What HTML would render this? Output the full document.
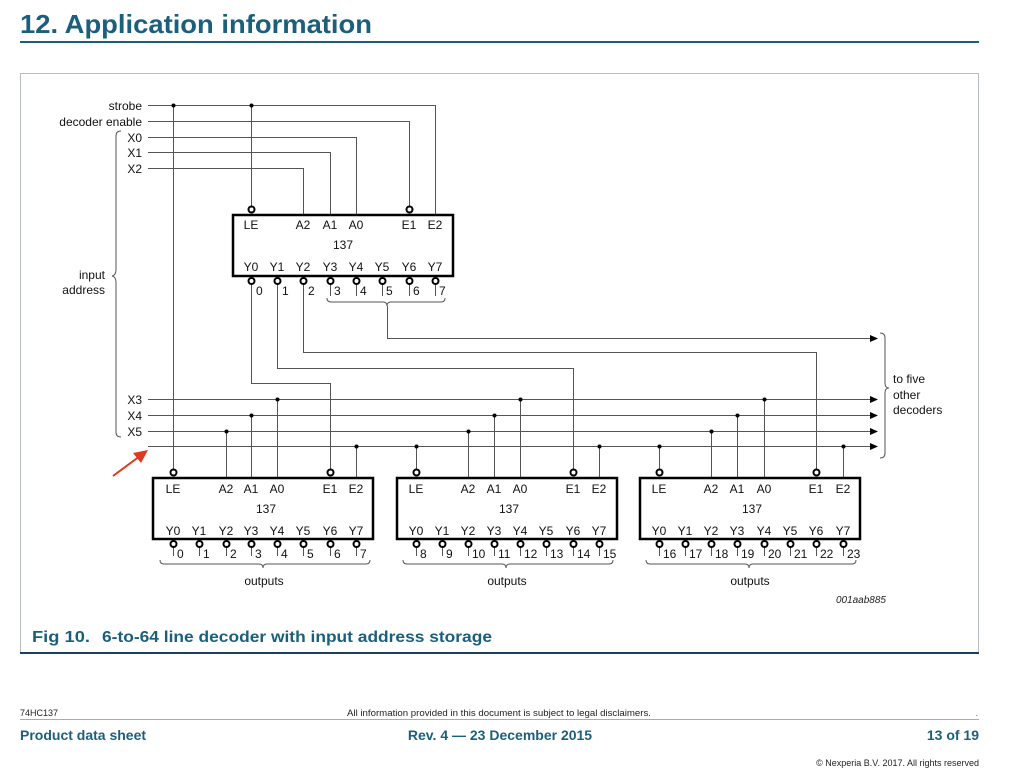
<!DOCTYPE html>
<html><head><meta charset="utf-8"><style>
html,body{margin:0;padding:0;background:#fff}
svg{display:block}
text{font-family:"Liberation Sans",Arial,sans-serif}
</style></head><body>
<svg width="1024" height="782" viewBox="0 0 1024 782" xmlns="http://www.w3.org/2000/svg">
<!-- header -->
<text x="20" y="33" font-size="26" font-weight="bold" fill="#1b5f7c" textLength="352" lengthAdjust="spacingAndGlyphs">12. Application information</text>
<rect x="20" y="41" width="959" height="2" fill="#1b5f7c"/>
<!-- frame -->
<rect x="20.5" y="73.5" width="958" height="580" fill="none" stroke="#b8bcc4" stroke-width="1"/>
<rect x="20" y="652" width="959" height="2" fill="#1e3f5c"/>
<text x="32" y="642" font-size="16" font-weight="bold" fill="#1b5f7c" textLength="58" lengthAdjust="spacingAndGlyphs">Fig 10.</text>
<text x="102" y="642" font-size="16" font-weight="bold" fill="#1b5f7c" textLength="390" lengthAdjust="spacingAndGlyphs">6-to-64 line decoder with input address storage</text>

<g stroke="#555" stroke-width="1" fill="none">
<line x1="148" y1="105.5" x2="435.5" y2="105.5"/><line x1="435.5" y1="105" x2="435.5" y2="214"/>
<line x1="148" y1="121.5" x2="409.5" y2="121.5"/><line x1="409.5" y1="121" x2="409.5" y2="206"/>
<line x1="148" y1="137.5" x2="356.5" y2="137.5"/><line x1="356.5" y1="137" x2="356.5" y2="214"/>
<line x1="148" y1="152.5" x2="330.5" y2="152.5"/><line x1="330.5" y1="152" x2="330.5" y2="214"/>
<line x1="148" y1="168.5" x2="303.5" y2="168.5"/><line x1="303.5" y1="168" x2="303.5" y2="214"/>
<line x1="251.5" y1="105" x2="251.5" y2="206"/>
<line x1="173.5" y1="105" x2="173.5" y2="470"/>
<polyline points="251.5,284 251.5,383.5 330.5,383.5 330.5,470"/>
<polyline points="277.5,284 277.5,368.5 573.5,368.5 573.5,470"/>
<polyline points="303.5,284 303.5,352.5 816.5,352.5 816.5,470"/>
<polyline points="387.5,306 387.5,338.5 870,338.5"/>
<path d="M327,298 q0,4 4,4 h52 q4,0 4,4 q0,-4 4,-4 h50 q4,0 4,-4"/>
<line x1="148" y1="399.5" x2="870" y2="399.5"/>
<line x1="148" y1="415.5" x2="870" y2="415.5"/>
<line x1="148" y1="431.5" x2="870" y2="431.5"/>
<line x1="148" y1="446.5" x2="870" y2="446.5"/>
<path d="M121,131 q-5,0 -5,5 v134 q0,5 -4,6 q4,1 4,6 v150 q0,5 5,5"/>
<path d="M880,333 q5,0 5,5 v45 q0,5 4,5 q-4,0 -4,5 v60 q0,5 -5,5"/>
<line x1="226.5" y1="431" x2="226.5" y2="478"/><line x1="251.5" y1="415" x2="251.5" y2="478"/><line x1="277.5" y1="399" x2="277.5" y2="478"/><line x1="356.5" y1="446" x2="356.5" y2="478"/>
<line x1="416.5" y1="446" x2="416.5" y2="470"/><line x1="468.5" y1="431" x2="468.5" y2="478"/><line x1="494.5" y1="415" x2="494.5" y2="478"/><line x1="520.5" y1="399" x2="520.5" y2="478"/><line x1="599.5" y1="446" x2="599.5" y2="478"/>
<line x1="659.5" y1="446" x2="659.5" y2="470"/><line x1="711.5" y1="431" x2="711.5" y2="478"/><line x1="737.5" y1="415" x2="737.5" y2="478"/><line x1="764.5" y1="399" x2="764.5" y2="478"/><line x1="843.5" y1="446" x2="843.5" y2="478"/>
<line x1="330.5" y1="284" x2="330.5" y2="296"/><line x1="356.5" y1="284" x2="356.5" y2="296"/><line x1="382.5" y1="284" x2="382.5" y2="296"/><line x1="409.5" y1="284" x2="409.5" y2="296"/><line x1="435.5" y1="284" x2="435.5" y2="296"/>
<path d="M160,560 q0,4 4,4 h95 q4,0 4,4 q0,-4 4,-4 h99 q4,0 4,-4"/>
<path d="M403,560 q0,4 4,4 h95 q4,0 4,4 q0,-4 4,-4 h99 q4,0 4,-4"/>
<path d="M646,560 q0,4 4,4 h95 q4,0 4,4 q0,-4 4,-4 h99 q4,0 4,-4"/>
</g>
<g stroke="#555" stroke-width="1">
<path d="M173.5,547v9M199.5,547v9M226.5,547v9M251.5,547v9M277.5,547v9M303.5,547v9M330.5,547v9M356.5,547v9"/>
<path d="M416.5,547v9M442.5,547v9M468.5,547v9M494.5,547v9M520.5,547v9M546.5,547v9M573.5,547v9M599.5,547v9"/>
<path d="M659.5,547v9M685.5,547v9M711.5,547v9M737.5,547v9M764.5,547v9M790.5,547v9M816.5,547v9M843.5,547v9"/>
</g>
<g fill="#000">
<polygon points="870,335 878,338.5 870,342"/>
<polygon points="870,396 878,399.5 870,403"/>
<polygon points="870,412 878,415.5 870,419"/>
<polygon points="870,428 878,431.5 870,435"/>
<polygon points="870,443 878,446.5 870,450"/>
</g>
<g fill="#000">
<circle cx="173.5" cy="105.5" r="2"/><circle cx="251.5" cy="105.5" r="2"/>
<circle cx="226.5" cy="431.5" r="2"/><circle cx="251.5" cy="415.5" r="2"/><circle cx="277.5" cy="399.5" r="2"/><circle cx="356.5" cy="446.5" r="2"/>
<circle cx="416.5" cy="446.5" r="2"/><circle cx="468.5" cy="431.5" r="2"/><circle cx="494.5" cy="415.5" r="2"/><circle cx="520.5" cy="399.5" r="2"/><circle cx="599.5" cy="446.5" r="2"/>
<circle cx="659.5" cy="446.5" r="2"/><circle cx="711.5" cy="431.5" r="2"/><circle cx="737.5" cy="415.5" r="2"/><circle cx="764.5" cy="399.5" r="2"/><circle cx="843.5" cy="446.5" r="2"/>
</g>
<g fill="none" stroke="#000" stroke-width="2.5">
<rect x="233" y="215" width="220" height="61"/>
<rect x="153" y="478" width="220" height="61"/>
<rect x="397" y="478" width="220" height="61"/>
<rect x="640" y="478" width="220" height="61"/>
</g>
<g fill="#fff" stroke="#000" stroke-width="2">
<circle cx="251.5" cy="209.5" r="3"/><circle cx="409.5" cy="209.5" r="3"/>
<circle cx="251.5" cy="281" r="3"/><circle cx="277.5" cy="281" r="3"/><circle cx="303.5" cy="281" r="3"/><circle cx="330.5" cy="281" r="3"/><circle cx="356.5" cy="281" r="3"/><circle cx="382.5" cy="281" r="3"/><circle cx="409.5" cy="281" r="3"/><circle cx="435.5" cy="281" r="3"/>
<circle cx="173.5" cy="472.5" r="3"/><circle cx="330.5" cy="472.5" r="3"/>
<circle cx="416.5" cy="472.5" r="3"/><circle cx="573.5" cy="472.5" r="3"/>
<circle cx="659.5" cy="472.5" r="3"/><circle cx="816.5" cy="472.5" r="3"/>
<circle cx="173.5" cy="544" r="3"/><circle cx="199.5" cy="544" r="3"/><circle cx="226.5" cy="544" r="3"/><circle cx="251.5" cy="544" r="3"/><circle cx="277.5" cy="544" r="3"/><circle cx="303.5" cy="544" r="3"/><circle cx="330.5" cy="544" r="3"/><circle cx="356.5" cy="544" r="3"/>
<circle cx="416.5" cy="544" r="3"/><circle cx="442.5" cy="544" r="3"/><circle cx="468.5" cy="544" r="3"/><circle cx="494.5" cy="544" r="3"/><circle cx="520.5" cy="544" r="3"/><circle cx="546.5" cy="544" r="3"/><circle cx="573.5" cy="544" r="3"/><circle cx="599.5" cy="544" r="3"/>
<circle cx="659.5" cy="544" r="3"/><circle cx="685.5" cy="544" r="3"/><circle cx="711.5" cy="544" r="3"/><circle cx="737.5" cy="544" r="3"/><circle cx="764.5" cy="544" r="3"/><circle cx="790.5" cy="544" r="3"/><circle cx="816.5" cy="544" r="3"/><circle cx="843.5" cy="544" r="3"/>
</g>
<line x1="113" y1="476" x2="140" y2="456" stroke="#e03a1e" stroke-width="2"/>
<polygon points="148,450 133,453 141,463" fill="#e03a1e"/>

<g font-size="12" fill="#111">
<g text-anchor="end">
<text x="142" y="110">strobe</text>
<text x="142" y="126">decoder enable</text>
<text x="142" y="142">X0</text>
<text x="142" y="157">X1</text>
<text x="142" y="173">X2</text>
<text x="105" y="279">input</text>
<text x="105" y="294">address</text>
<text x="142" y="404">X3</text>
<text x="142" y="420">X4</text>
<text x="142" y="436">X5</text>
</g>
<text x="893" y="383">to five</text>
<text x="893" y="399">other</text>
<text x="893" y="414">decoders</text>
<g text-anchor="middle">
<text x="251" y="229">LE</text><text x="303" y="229">A2</text><text x="330" y="229">A1</text><text x="356" y="229">A0</text><text x="409" y="229">E1</text><text x="435" y="229">E2</text>
<text x="343" y="249">137</text>
<text x="251" y="271">Y0</text><text x="277" y="271">Y1</text><text x="303" y="271">Y2</text><text x="330" y="271">Y3</text><text x="356" y="271">Y4</text><text x="382" y="271">Y5</text><text x="409" y="271">Y6</text><text x="435" y="271">Y7</text>

<text x="173" y="493">LE</text><text x="226" y="493">A2</text><text x="251" y="493">A1</text><text x="277" y="493">A0</text><text x="330" y="493">E1</text><text x="356" y="493">E2</text>
<text x="266" y="513">137</text>
<text x="173" y="535">Y0</text><text x="199" y="535">Y1</text><text x="226" y="535">Y2</text><text x="251" y="535">Y3</text><text x="277" y="535">Y4</text><text x="303" y="535">Y5</text><text x="330" y="535">Y6</text><text x="356" y="535">Y7</text>

<text x="416" y="493">LE</text><text x="468" y="493">A2</text><text x="494" y="493">A1</text><text x="520" y="493">A0</text><text x="573" y="493">E1</text><text x="599" y="493">E2</text>
<text x="509" y="513">137</text>
<text x="416" y="535">Y0</text><text x="442" y="535">Y1</text><text x="468" y="535">Y2</text><text x="494" y="535">Y3</text><text x="520" y="535">Y4</text><text x="546" y="535">Y5</text><text x="573" y="535">Y6</text><text x="599" y="535">Y7</text>

<text x="659" y="493">LE</text><text x="711" y="493">A2</text><text x="737" y="493">A1</text><text x="764" y="493">A0</text><text x="816" y="493">E1</text><text x="843" y="493">E2</text>
<text x="752" y="513">137</text>
<text x="659" y="535">Y0</text><text x="685" y="535">Y1</text><text x="711" y="535">Y2</text><text x="737" y="535">Y3</text><text x="764" y="535">Y4</text><text x="790" y="535">Y5</text><text x="816" y="535">Y6</text><text x="843" y="535">Y7</text>

<text x="264" y="585">outputs</text><text x="507" y="585">outputs</text><text x="750" y="585">outputs</text>
</g>
<g>
<text x="256" y="295">0</text><text x="282" y="295">1</text><text x="308" y="295">2</text><text x="334" y="295">3</text><text x="360" y="295">4</text><text x="386" y="295">5</text><text x="413" y="295">6</text><text x="439" y="295">7</text>
<text x="177" y="558">0</text><text x="203" y="558">1</text><text x="230" y="558">2</text><text x="255" y="558">3</text><text x="281" y="558">4</text><text x="307" y="558">5</text><text x="334" y="558">6</text><text x="360" y="558">7</text>
<text x="420" y="558">8</text><text x="446" y="558">9</text><text x="472" y="558">10</text><text x="498" y="558">11</text><text x="524" y="558">12</text><text x="550" y="558">13</text><text x="577" y="558">14</text><text x="603" y="558">15</text>
<text x="663" y="558">16</text><text x="689" y="558">17</text><text x="715" y="558">18</text><text x="741" y="558">19</text><text x="768" y="558">20</text><text x="794" y="558">21</text><text x="820" y="558">22</text><text x="847" y="558">23</text>
</g>
<text x="886" y="603" font-size="10" font-style="italic" text-anchor="end" fill="#222">001aab885</text>
</g>

<text x="20" y="716" font-size="9" fill="#222">74HC137</text>
<text x="347" y="716" font-size="9" fill="#222" textLength="304" lengthAdjust="spacingAndGlyphs">All information provided in this document is subject to legal disclaimers.</text>
<text x="978" y="716" font-size="8" fill="#222" text-anchor="end">.</text>
<rect x="20" y="719" width="959" height="1" fill="#aab"/>
<text x="20" y="740" font-size="14" font-weight="bold" fill="#1b5f7c">Product data sheet</text>
<text x="500" y="740" font-size="14" font-weight="bold" fill="#1b5f7c" text-anchor="middle">Rev. 4 — 23 December 2015</text>
<text x="979" y="740" font-size="14" font-weight="bold" fill="#1b5f7c" text-anchor="end">13 of 19</text>
<text x="979" y="766" font-size="9" fill="#222" text-anchor="end">© Nexperia B.V. 2017. All rights reserved</text>
</svg>
</body></html>
